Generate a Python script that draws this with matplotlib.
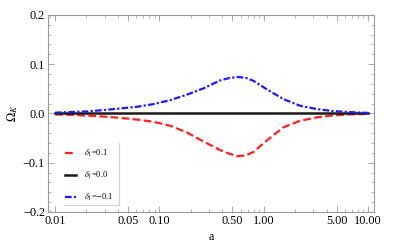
import numpy as np
import matplotlib
matplotlib.use('Agg')
import matplotlib.pyplot as plt
from matplotlib.ticker import FixedLocator, NullFormatter, LogLocator

plt.rcParams['font.family'] = ['Liberation Serif', 'DejaVu Serif']
plt.rcParams['mathtext.fontset'] = 'stix'

# values
a_vals = [0.01, 0.015, 0.02, 0.03, 0.042, 0.061, 0.088, 0.127, 0.183, 0.265, 0.382,
          0.47, 0.57, 0.68, 0.80, 1.07, 1.55, 2.23, 3.23, 4.67, 6.7, 10.0]
omega_pos = [-0.002, -0.003, -0.0045, -0.0065, -0.009, -0.0125, -0.017, -0.025, -0.0386,
             -0.057, -0.0745, -0.082, -0.087, -0.085, -0.078, -0.055, -0.028, -0.015,
             -0.008, -0.004, -0.002, -0.001]
omega_zero = [0.0] * len(a_vals)
omega_neg = [0.0015, 0.003, 0.004, 0.007, 0.010, 0.0135, 0.019, 0.027, 0.038, 0.051, 0.067,
             0.072, 0.074, 0.072, 0.066, 0.049, 0.029, 0.0156, 0.0088, 0.0047, 0.0027, 0.001]
labels = [r'$\delta_1$=0.1', r'$\delta_1$=0.0', r'$\delta_1$=$-$0.1']

x_ticks = [0.01, 0.05, 0.1, 0.5, 1, 5, 10]
x_ticklabels = ['0.01', '0.05', '0.10', '0.50', '1.00', '5.00', '10.00']
y_ticks = [-0.2, -0.1, 0.0, 0.1, 0.2]

fig = plt.figure(figsize=(4.13, 2.49), dpi=100)
ax = fig.add_axes([0.1155, 0.149, 0.79, 0.791])

ax.plot(a_vals, omega_pos, color='#ff2020', ls=(0, (3.5, 1.5)), lw=1.6, label=labels[0])
ax.plot(a_vals, omega_zero, color='#1a1a1a', ls='-', lw=1.8, label=labels[1])
ax.plot(a_vals, omega_neg, color='#1a1aff', ls=(0, (3.0, 1.0, 1.0, 1.0)), lw=1.6, label=labels[2])

ax.set_xscale('log')
ax.set_xlim(0.0085, 11.4)
ax.set_ylim(-0.2, 0.2)

ax.xaxis.set_major_locator(FixedLocator(x_ticks))
ax.set_xticklabels(x_ticklabels)
ax.xaxis.set_minor_locator(LogLocator(base=10, subs=np.arange(2, 10)))
ax.xaxis.set_minor_formatter(NullFormatter())
ax.set_yticks(y_ticks)
ax.set_yticklabels(['\u22120.2', '\u22120.1', '0.0', '0.1', '0.2'])
ax.yaxis.set_minor_locator(FixedLocator(np.arange(-0.2, 0.201, 0.02)))

ax.tick_params(which='both', direction='in', top=True, right=True, color='#999999',
               labelsize=8.8, pad=2)
ax.tick_params(which='major', length=4, width=0.6)
ax.tick_params(which='minor', length=2, width=0.5)
for s in ax.spines.values():
    s.set_color('#999999')
    s.set_linewidth(0.8)

ax.set_xlabel('a', fontsize=8.8, labelpad=3)
ax.set_ylabel(r'$\Omega_K$', fontsize=9, labelpad=2)

leg = ax.legend(loc='upper left', bbox_to_anchor=(0.045, 0.34), frameon=False,
                fontsize=6, handlelength=1.3, handletextpad=1.0, labelspacing=1.3,
                borderpad=0.3, borderaxespad=0)
# Mathematica-style legend frame: right and bottom edges only
ax.plot([0.219, 0.219], [0.035, 0.35], transform=ax.transAxes, color='#d0d0d0', lw=0.8, zorder=5)
ax.plot([0.05, 0.219], [0.035, 0.035], transform=ax.transAxes, color='#d0d0d0', lw=0.8, zorder=5)

fig.savefig('out.png', dpi=100)
